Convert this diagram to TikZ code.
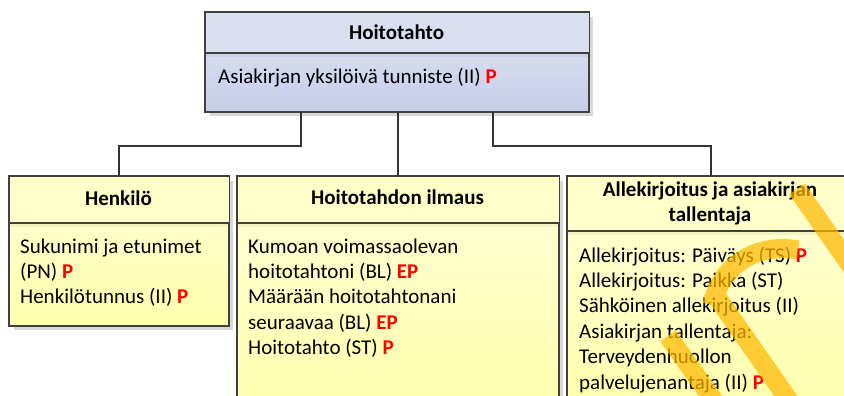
\documentclass[tikz,border=0pt]{standalone}
\usepackage{fontspec}
\setmainfont{Carlito}
\usetikzlibrary{calc,shadows}

\definecolor{edge}{RGB}{64,64,64}
\definecolor{linkc}{RGB}{52,52,52}
\definecolor{hdrblue}{RGB}{219,224,241}
\definecolor{bodyblueT}{RGB}{226,230,244}
\definecolor{bodyblueB}{RGB}{198,205,232}
\definecolor{hdryel}{RGB}{255,255,202}
\definecolor{bodyyelT}{RGB}{255,255,216}
\definecolor{bodyyelB}{RGB}{255,255,172}
\definecolor{shade}{RGB}{216,216,216}
\definecolor{flag}{RGB}{255,0,0}
\definecolor{streakc}{RGB}{255,184,0}

\newcommand\txt{\fontsize{21}{25.4}\selectfont}
\newcommand\req[1]{\textcolor{flag}{\textbf{#1}}}

\tikzset{
  box/.style={draw=edge, line width=1.3pt, anchor=north west, inner sep=0pt,
    drop shadow={shadow xshift=4pt, shadow yshift=-4pt, fill=shade, opacity=1}},
  bluebox/.style={box, top color=bodyblueT, bottom color=bodyblueB},
  yelbox/.style={box, top color=bodyyelT, bottom color=bodyyelB},
  rim/.style={draw=edge, line width=1.3pt},
  title/.style={font=\txt\bfseries, anchor=base, inner sep=0pt},
  item/.style={font=\txt, anchor=base west, inner sep=0pt},
  conn/.style={draw=linkc, line width=2pt},
  streak/.style={draw=streakc, line width=19pt, line cap=butt},
}

\begin{document}
\begin{tikzpicture}[x=1pt, y=-1pt]
  \useasboundingbox (0,0) rectangle (844,396);
  \clip (0,0) rectangle (844,396);
  \fill[white] (0,0) rectangle (844,396);

  % class boxes
  \node[bluebox, minimum width=383pt, minimum height=99pt] (top) at (205,12) {};
  \node[yelbox, minimum width=219pt, minimum height=149pt] (hk) at (9,176) {};
  \node[yelbox, minimum width=321pt, minimum height=240pt] (hi) at (237,176) {};
  \node[yelbox, minimum width=286pt, minimum height=240pt] (al) at (567,176) {};

  % header compartments
  \fill[hdrblue] (top.north west) rectangle ($(top.north east)+(0,41)$);
  \fill[hdryel] (hk.north west) rectangle ($(hk.north east)+(0,47)$);
  \fill[hdryel] (hi.north west) rectangle ($(hi.north east)+(0,47)$);
  \fill[hdryel] (al.north west) rectangle ($(al.north east)+(0,55)$);

  % faint band under each divider
  \fill[black, opacity=0.05] ($(top.north west)+(0,41)$) rectangle ($(top.north east)+(0,45)$);
  \fill[black, opacity=0.05] ($(hk.north west)+(0,47)$) rectangle ($(hk.north east)+(0,51)$);
  \fill[black, opacity=0.05] ($(hi.north west)+(0,47)$) rectangle ($(hi.north east)+(0,51)$);
  \fill[black, opacity=0.05] ($(al.north west)+(0,55)$) rectangle ($(al.north east)+(0,59)$);

  % dividers and outlines
  \draw[rim] ($(top.north west)+(0,41)$) -- ($(top.north east)+(0,41)$);
  \draw[rim] ($(hk.north west)+(0,47)$) -- ($(hk.north east)+(0,47)$);
  \draw[rim] ($(hi.north west)+(0,47)$) -- ($(hi.north east)+(0,47)$);
  \draw[rim] ($(al.north west)+(0,55)$) -- ($(al.north east)+(0,55)$);
  \draw[rim] (top.north west) rectangle (top.south east);
  \draw[rim] (hk.north west) rectangle (hk.south east);
  \draw[rim] (hi.north west) rectangle (hi.south east);
  \draw[rim] (al.north west) rectangle (al.south east);

  % connectors
  \coordinate (j1) at ($(top.south)+(-96,0)$);
  \coordinate (j3) at ($(top.south)+(96,0)$);
  \draw[conn] (j1) -- ++(0,34) -| (hk.north);
  \draw[conn] (hi.north |- top.south) -- (hi.north);
  \draw[conn] (j3) -- ++(0,34) -| (al.north);

  % Hoitotahto
  \node[title] (tTop) at (396.5,39.3) {Hoitotahto};
  \node[item] (tTop1) at (218,84) {Asiakirjan yksilöivä tunniste (II) \req{P}};

  % Henkilö
  \node[title] (tHk) at (118.5,205) {Henkilö};
  \node[item] (tHk1) at (20,253) {Sukunimi ja etunimet};
  \node[item] (tHk2) at (20,278.4) {(PN) \req{P}};
  \node[item] (tHk3) at (20,303.8) {Henkilötunnus (II) \req{P}};

  % Hoitotahdon ilmaus
  \node[title] (tHi) at (397.5,204.3) {Hoitotahdon ilmaus};
  \node[item] (tHi1) at (248,253) {Kumoan voimassaolevan};
  \node[item] (tHi2) at (248,278.4) {hoitotahtoni (BL) \req{EP}};
  \node[item] (tHi3) at (248,303.8) {Määrään hoitotahtonani};
  \node[item] (tHi4) at (248,329.2) {seuraavaa (BL) \req{EP}};
  \node[item] (tHi5) at (248,354.6) {Hoitotahto (ST) \req{P}};

  % Allekirjoitus ja asiakirjan tallentaja
  \node[title] (tAl1) at (710,196.7) {Allekirjoitus ja asiakirjan};
  \node[title] (tAl2) at (710,221.7) {tallentaja};
  \node[item] (tAl3) at (579,262) {Allekirjoitus: Päiväys (TS) \req{P}};
  \node[item] (tAl4) at (579,287.4) {Allekirjoitus: Paikka (ST)};
  \node[item] (tAl5) at (579,312.8) {Sähköinen allekirjoitus (II)};
  \node[item] (tAl6) at (579,338.2) {Asiakirjan tallentaja:};
  \node[item] (tAl7) at (579,363.6) {Terveydenhuollon};
  \node[item] (tAl8) at (579,389) {palvelujenantaja (II) \req{P}};

  % translucent orange strokes over the right-hand box
  \begin{scope}[transparency group, opacity=0.72]
    \draw[streak] (797,189) -- (890,322);
    \draw[streak] (712,305) .. controls (722,262) and (760,243) .. (798,250);
    \draw[streak] (712,290) -- (790,402);
    \draw[streak] (668,336) -- (722,412);
  \end{scope}
\end{tikzpicture}
\end{document}
